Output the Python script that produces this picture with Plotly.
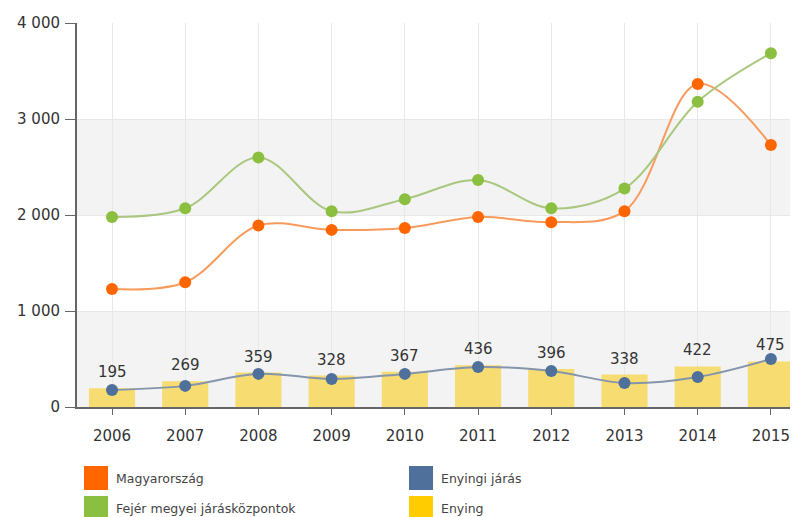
import plotly.graph_objects as go

years = ["2006", "2007", "2008", "2009", "2010", "2011", "2012", "2013", "2014", "2015"]
magyarorszag = [1230, 1300, 1890, 1845, 1865, 1980, 1925, 2040, 3365, 2730]
fejer = [1980, 2070, 2600, 2040, 2165, 2365, 2070, 2275, 3180, 3685]
enyingi_jaras = [177, 220, 345, 292, 345, 417, 375, 250, 313, 500]
enying = [195, 269, 359, 328, 367, 436, 396, 338, 422, 475]
y_ticks = [0, 1000, 2000, 3000, 4000]

names = ["Magyarország", "Fejér megyei járásközpontok", "Enyingi járás", "Enying"]
marker_colors = ["#FF6600", "#8BBF3F", "#4E709A", "#FFCC00"]
line_colors = ["#F79A5C", "#A9C77E", "#8595AC", "#FFCC00"]

# page body has an 8px margin; figure pixel geometry
OFF = 8
W, H = 798 - OFF, 517 - OFF
L, R, T = 77 - OFF, 0, 23 - OFF
B = H - (407 - OFF)
pw, ph = W - L - R, H - T - B

fig = go.Figure()

fig.add_trace(go.Bar(
    x=years, y=enying, name=names[3],
    marker=dict(color="rgba(247,216,95,0.88)", line=dict(width=0)),
    width=0.63, showlegend=False,
))

for vals, i in ((enyingi_jaras, 2), (magyarorszag, 0), (fejer, 1)):
    fig.add_trace(go.Scatter(
        x=years, y=vals, name=names[i], mode="lines+markers",
        line=dict(color=line_colors[i], width=2, shape="spline", smoothing=1.0),
        marker=dict(color=marker_colors[i], size=12),
        showlegend=False, cliponaxis=False,
    ))

shapes = []
for lo, hi in ((0, 1000), (2000, 3000)):
    shapes.append(dict(type="rect", xref="paper", yref="y", x0=0, x1=1, y0=lo, y1=hi,
                       fillcolor="#F3F3F3", line=dict(width=0), layer="below"))

annotations = []
# bar value labels, anchored to the bar tops via the axes (category index)
for idx, v in enumerate(enying):
    annotations.append(dict(x=idx, y=v, xref="x", yref="y", text=str(v), showarrow=False,
                            yanchor="middle", yshift=16,
                            font=dict(family="DejaVu Sans", size=15, color="#333333")))

def px2x(px):
    return (px - OFF - L) / pw
def py2y(py):
    return (H - B - (py - OFF)) / ph

legend_pos = [(84, 478), (84, 508), (409, 478), (409, 508)]
for (sx, cy), name, col in zip(legend_pos, names, marker_colors):
    shapes.append(dict(type="rect", xref="paper", yref="paper",
                       x0=px2x(sx), x1=px2x(sx + 24), y0=py2y(cy - 12), y1=py2y(cy + 12),
                       fillcolor=col, line=dict(width=0)))
    annotations.append(dict(xref="paper", yref="paper", x=px2x(sx + 30), y=py2y(cy),
                            text=name, showarrow=False, xanchor="left", yanchor="middle",
                            font=dict(family="DejaVu Sans", size=12.5, color="#444444")))

fig.update_layout(
    width=W, height=H,
    margin=dict(l=L, r=R, t=T, b=B),
    paper_bgcolor="white", plot_bgcolor="white",
    separators=", ",
    shapes=shapes, annotations=annotations,
    showlegend=False,
)
fig.update_xaxes(
    type="category", range=[-0.478, 9.37],
    showgrid=True, gridcolor="#E8E8E8", gridwidth=1,
    showline=True, linecolor="#666666", linewidth=2,
    ticks="outside", ticklen=6, tickcolor="#666666", tickwidth=1,
    ticklabelstandoff=8,
    tickfont=dict(family="DejaVu Sans", size=15, color="#333333"),
    fixedrange=True,
)
fig.update_yaxes(
    range=[0, 4000], tickvals=y_ticks, tickformat=",",
    showgrid=True, gridcolor="#E8E8E8", gridwidth=1,
    showline=True, linecolor="#666666", linewidth=2,
    ticks="outside", ticklen=10, tickcolor="#666666", tickwidth=1,
    ticklabelstandoff=2,
    tickfont=dict(family="DejaVu Sans", size=15, color="#333333"),
    zeroline=False, layer="below traces",
)

fig.write_html("out.html")
